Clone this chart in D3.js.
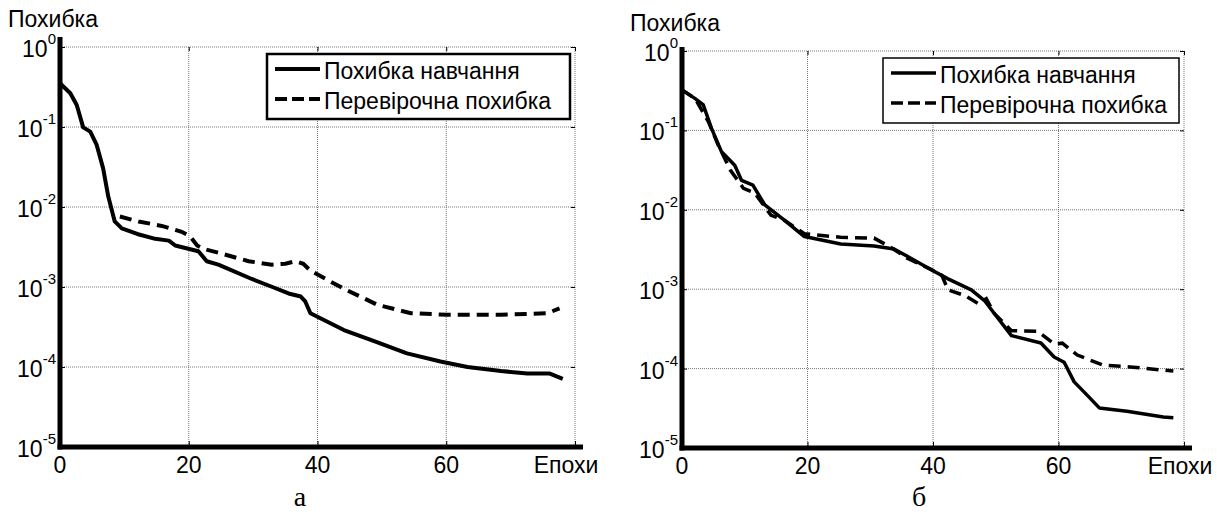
<!DOCTYPE html>
<html>
<head>
<meta charset="utf-8">
<script src="https://cdn.jsdelivr.net/npm/d3@7"></script>
<style>
  body { margin: 0; background: #fff; }
  svg { display: block; }
  text { font-family: "Liberation Sans", Arial, sans-serif; fill: #000; }
</style>
</head>
<body>
<svg id="chart" width="1217" height="514"></svg>
<script>
// Panel "а": training error and validation error
var epochsTrainA = [0, 1.6, 2.6, 3.6, 4.7, 5.7, 6.7, 7.5, 8.5, 9.6, 12, 14.8, 16.9, 17.9, 21.5, 22.8, 24.6, 29.8, 33, 35.5, 37.4, 38.1, 38.9, 44.1, 48.8, 53.9, 59.1, 63.3, 68.5, 72.6, 76, 78.1],
    errTrainA = [0.352, 0.264, 0.188, 0.099, 0.0875, 0.0596, 0.0304, 0.0135, 0.0066, 0.0054, 0.0046, 0.0040, 0.0038, 0.0033, 0.0028, 0.0021, 0.0019, 0.00126, 0.0010, 0.00083, 0.00076, 0.00066, 0.00047, 0.00029, 0.00021, 0.000148, 0.000117, 0.0001, 0.000089, 0.000083, 0.000083, 0.000071];
var epochsValA = [9.3, 12.2, 15.8, 18.9, 20.2, 21.3, 22.3, 25.2, 29.3, 32.9, 35, 36.6, 37.8, 38.9, 44.1, 49.3, 54.5, 60.2, 68.5, 75.7, 77.6],
    errValA = [0.0076, 0.0066, 0.0058, 0.0049, 0.0043, 0.0033, 0.0030, 0.0026, 0.0021, 0.0019, 0.00195, 0.0021, 0.00195, 0.0016, 0.00095, 0.0006, 0.00047, 0.00045, 0.00045, 0.00047, 0.00054];

// Panel "б"
var epochsTrainB = [0, 2.1, 3.4, 4.7, 6.3, 8.4, 9.5, 11.3, 13.2, 16.3, 19.5, 25.3, 30.6, 33.8, 35.9, 39.5, 42.4, 46.1, 48.2, 49.8, 52.5, 57.2, 59.3, 60.9, 62.5, 64.6, 66.5, 70.9, 76.7, 78.3],
    errTrainB = [0.324, 0.251, 0.209, 0.106, 0.0537, 0.0363, 0.0234, 0.0204, 0.0115, 0.0074, 0.0046, 0.0037, 0.0035, 0.0032, 0.0026, 0.0018, 0.00135, 0.00098, 0.00072, 0.00049, 0.00026, 0.00021, 0.00014, 0.00012, 0.000068, 0.000046, 0.000032, 0.000029, 0.0000245, 0.000024];
var epochsValB = [0, 2.1, 4.2, 5.8, 7.7, 9.8, 11.6, 14.2, 16.3, 19.5, 25.3, 30.6, 33.2, 35.9, 39.5, 41.4, 42.4, 45.1, 47.2, 48.5, 49.8, 52.5, 56.7, 59.3, 60.6, 63, 67.2, 71.4, 78.3],
    errValB = [0.324, 0.251, 0.129, 0.0646, 0.0316, 0.0186, 0.0162, 0.0085, 0.0074, 0.0050, 0.0045, 0.0044, 0.0034, 0.00245, 0.0018, 0.0015, 0.00098, 0.00083, 0.00066, 0.00076, 0.00049, 0.0003, 0.000295, 0.000204, 0.000209, 0.000148, 0.00011, 0.000105, 0.000093];

var xTicks = [0, 20, 40, 60],
    yDecades = [1e0, 1e-1, 1e-2, 1e-3, 1e-4, 1e-5],
    yExponents = ['0', '-1', '-2', '-3', '-4', '-5'],
    legendLabels = ['Похибка навчання', 'Перевірочна похибка'],
    yTitle = 'Похибка',
    xTitle = 'Епохи',
    panelNames = ['а', 'б'];

var svg = d3.select('#chart');

function drawPanel(p) {
    var x = d3.scaleLinear().domain([0, 80]).range([p.left, p.right]),
        y = d3.scaleLog().domain([1e-5, 1]).range([p.bottom, p.top]);

    var g = svg.append('g');

    // dotted grid, top and right edges included
    g.selectAll('.vgrid').data([20, 40, 60, 80]).enter()
        .append('line')
        .attr('x1', function(d) { return x(d); })
        .attr('x2', function(d) { return x(d); })
        .attr('y1', p.top).attr('y2', p.bottom)
        .attr('stroke', '#777').attr('stroke-width', 1)
        .attr('stroke-dasharray', '1,1');
    g.selectAll('.hgrid').data(yDecades).enter()
        .append('line')
        .attr('x1', p.left).attr('x2', p.right)
        .attr('y1', function(d) { return y(d); })
        .attr('y2', function(d) { return y(d); })
        .attr('stroke', '#777').attr('stroke-width', 1)
        .attr('stroke-dasharray', '1,1');

    // minor log ticks along the y axis
    g.append('g')
        .attr('transform', 'translate(' + p.left + ',0)')
        .call(d3.axisRight(y).ticks(5).tickSize(5).tickFormat(''))
        .call(function(s) {
            s.select('.domain').remove();
            s.selectAll('line').attr('stroke', '#000').attr('stroke-width', 1);
        });
    // major ticks on the right and top edges, bottom edge
    g.append('g')
        .attr('transform', 'translate(' + p.right + ',0)')
        .call(d3.axisLeft(y).tickValues(yDecades).tickSize(4).tickFormat(''))
        .call(function(s) { s.select('.domain').remove(); });
    g.append('g')
        .attr('transform', 'translate(0,' + p.top + ')')
        .call(d3.axisBottom(x).tickValues([20, 40, 60, 80]).tickSize(4).tickFormat(''))
        .call(function(s) { s.select('.domain').remove(); });
    g.append('g')
        .attr('transform', 'translate(0,' + p.bottom + ')')
        .call(d3.axisTop(x).tickValues([20, 40, 60, 80]).tickSize(6).tickFormat(''))
        .call(function(s) { s.select('.domain').remove(); });

    // series
    var line = d3.line()
        .x(function(d) { return x(d[0]); })
        .y(function(d) { return y(d[1]); });

    g.append('path')
        .datum(d3.zip(p.valEpochs, p.valErr))
        .attr('d', line)
        .attr('fill', 'none').attr('stroke', '#000')
        .attr('stroke-width', p.lineWidth)
        .attr('stroke-dasharray', '12,7');
    g.append('path')
        .datum(d3.zip(p.trainEpochs, p.trainErr))
        .attr('d', line)
        .attr('fill', 'none').attr('stroke', '#000')
        .attr('stroke-width', p.lineWidth)
        .attr('stroke-linejoin', 'round');

    // thick axes
    g.append('line')
        .attr('x1', p.left).attr('x2', p.left)
        .attr('y1', p.top - p.axisOver).attr('y2', p.bottom + 2.5)
        .attr('stroke', '#000').attr('stroke-width', 5);
    g.append('line')
        .attr('x1', p.left - 2.5).attr('x2', p.right + 8)
        .attr('y1', p.bottom).attr('y2', p.bottom)
        .attr('stroke', '#000').attr('stroke-width', 5);

    // y tick labels: 10 with superscript exponent
    var yl = g.selectAll('.ylab').data(yDecades).enter()
        .append('text')
        .attr('x', p.left - 4)
        .attr('y', function(d) { return y(d) + 10; })
        .attr('text-anchor', 'end')
        .style('font-size', '23px');
    yl.append('tspan').text('10');
    yl.append('tspan')
        .attr('dy', -13)
        .style('font-size', '15px')
        .text(function(d, i) { return yExponents[i]; });

    // x tick labels
    g.selectAll('.xlab').data(xTicks).enter()
        .append('text')
        .attr('x', function(d) { return x(d); })
        .attr('y', p.bottom + 26)
        .attr('text-anchor', 'middle')
        .style('font-size', '23px')
        .text(function(d) { return d; });

    g.append('text')
        .attr('x', x(80) + p.xTitleShift)
        .attr('y', p.bottom + 26)
        .attr('text-anchor', 'middle')
        .style('font-size', '23px')
        .text(xTitle);
    g.append('text')
        .attr('x', p.left - 52)
        .attr('y', p.top - 20)
        .style('font-size', '23px')
        .text(yTitle);

    // legend
    var lg = p.legend;
    g.append('rect')
        .attr('x', lg.x).attr('y', lg.y)
        .attr('width', lg.w).attr('height', lg.h)
        .attr('fill', '#fff').attr('stroke', '#000')
        .attr('stroke-width', lg.border);
    legendLabels.forEach(function(label, i) {
        var ly = lg.y + 15 + i * 30;
        g.append('line')
            .attr('x1', lg.x + 8).attr('x2', lg.x + 53)
            .attr('y1', ly).attr('y2', ly)
            .attr('stroke', '#000').attr('stroke-width', p.lineWidth)
            .attr('stroke-dasharray', i === 1 ? '12,5' : null);
        g.append('text')
            .attr('x', lg.x + 57)
            .attr('y', ly + 10)
            .style('font-size', '23px')
            .text(label);
    });

    svg.append('text')
        .attr('x', p.nameX).attr('y', 506)
        .attr('text-anchor', 'middle')
        .style('font-family', '"Liberation Serif", "Times New Roman", serif')
        .style('font-size', '28px')
        .text(p.name);
}

drawPanel({
    left: 60, right: 575, top: 47, bottom: 447, axisOver: 10,
    trainEpochs: epochsTrainA, trainErr: errTrainA,
    valEpochs: epochsValA, valErr: errValA,
    lineWidth: 4, xTitleShift: -9,
    legend: { x: 267, y: 54, w: 303, h: 65, border: 2.5 },
    name: panelNames[0], nameX: 300
});
drawPanel({
    left: 682, right: 1184, top: 51, bottom: 448, axisOver: 4,
    trainEpochs: epochsTrainB, trainErr: errTrainB,
    valEpochs: epochsValB, valErr: errValB,
    lineWidth: 3.5, xTitleShift: -4,
    legend: { x: 883, y: 58, w: 296, h: 65, border: 1.5 },
    name: panelNames[1], nameX: 919
});
</script>
</body>
</html>
